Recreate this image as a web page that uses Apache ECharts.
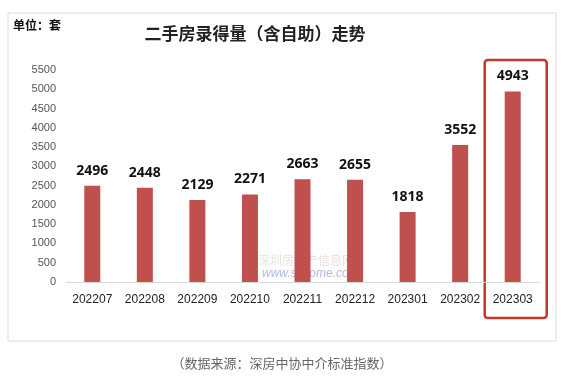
<!DOCTYPE html>
<html><head><meta charset="utf-8">
<script src="https://cdn.jsdelivr.net/npm/echarts@6/dist/echarts.min.js"></script>
<style>html,body{margin:0;padding:0;background:#fff}#c{width:580px;height:390px}</style>
</head><body><div id="c"></div>
<script>
const categories = ['202207','202208','202209','202210','202211','202212','202301','202302','202303'];
const values = [2496, 2448, 2129, 2271, 2663, 2655, 1818, 3552, 4943];
const yMin = 0, yMax = 5500, yInterval = 500;
const titleText = '二手房录得量（含自助）走势';
const unitText = '单位：套';
const sourceText = '（数据来源：深房中协中介标准指数）';
const highlightCategory = '202303';

const chart = echarts.init(document.getElementById('c'), null, {renderer: 'canvas'});
const cjk = '"Noto Sans CJK SC", "Noto Sans", sans-serif';
chart.setOption({
  animation: false,
  backgroundColor: '#fff',
  grid: {left: 66, right: 41, top: 70, bottom: 108},
  xAxis: {
    type: 'category', data: categories,
    axisLine: {lineStyle: {color: '#d9d9d9'}},
    axisTick: {show: false},
    axisLabel: {color: '#222', fontSize: 12, fontFamily: '"Liberation Sans", sans-serif', margin: 12}
  },
  yAxis: {
    type: 'value', min: yMin, max: yMax, interval: yInterval,
    axisLine: {show: false}, axisTick: {show: false}, splitLine: {show: false},
    axisLabel: {color: '#555', fontSize: 11, fontFamily: '"Liberation Sans", sans-serif', margin: 10, formatter: v => String(v)}
  },
  series: [{
    type: 'bar', data: values, barWidth: 16,
    itemStyle: {color: '#c0504d'},
    label: {show: true, position: 'top', distance: 8, color: '#111', fontSize: 14, fontWeight: 'bold', fontFamily: '"Open Sans", "Liberation Sans", sans-serif'}
  }],
  graphic: [
    {id: 'frame', type: 'rect', shape: {x: 8, y: 13, width: 548, height: 328}, style: {fill: 'none', stroke: '#d9d9d9', lineWidth: 1}, silent: true},
    {id: 'unit', type: 'text', x: 13, y: 19, style: {text: unitText, font: 'bold 12px ' + cjk, fill: '#111'}},
    {id: 'title', type: 'text', x: 255, y: 25, style: {text: titleText, font: 'bold 17px ' + cjk, fill: '#222', textAlign: 'center'}},
    {id: 'src', type: 'text', x: 282, y: 357, style: {text: sourceText, font: '13px ' + cjk, fill: '#666', textAlign: 'center'}},
    {id: 'wm1', type: 'text', x: 258, y: 254, style: {text: '深圳房地产信息网', font: '12px ' + cjk, fill: 'rgba(200,160,160,0.35)'}},
    {id: 'wm2', type: 'text', x: 262, y: 268, style: {text: 'www.szhome.com', font: 'italic 12px "Liberation Sans", sans-serif', fill: 'rgba(80,100,200,0.45)'}}
  ]
});
const cx = chart.convertToPixel({xAxisIndex: 0}, highlightCategory);
const topY = chart.convertToPixel({yAxisIndex: 0}, yMax) - 10;
const botY = chart.convertToPixel({yAxisIndex: 0}, yMin) + 36;
chart.setOption({graphic: [{id: 'hl', type: 'rect', shape: {x: cx - 28, y: topY, width: 62, height: botY - topY, r: 3}, style: {fill: 'none', stroke: '#c0392b', lineWidth: 2.5}, silent: true}]});
</script></body></html>
